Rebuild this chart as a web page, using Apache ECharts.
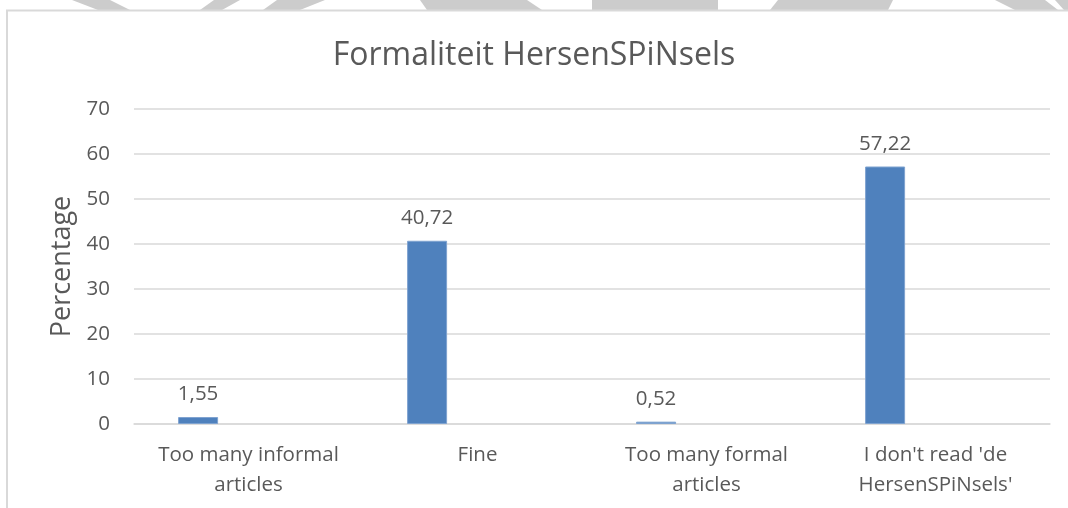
<!DOCTYPE html>
<html>
<head>
<meta charset="utf-8">
<script src="https://cdn.jsdelivr.net/npm/echarts@6/dist/echarts.min.js"></script>
<style>
  html, body { margin: 0; padding: 0; background: #fff; }
  #chart { width: 1068px; height: 508px; }
</style>
</head>
<body>
<div id="chart"></div>
<script>
// categorieën en waarden
const categories = ['Too many informal\narticles', 'Fine', 'Too many formal\narticles', "I don't read 'de\nHersenSPiNsels'"]
const percentages = [1.55, 40.72, 0.52, 57.22]
const emptySeries = [null, null, null, null]
const yTicks = [0, 10, 20, 30, 40, 50, 60, 70]

const fontFamily = '"Open Sans", Lato, sans-serif'
const textColor = '#595959'

// grijze vormen van het watermerk bovenaan
const watermark = [
  [[72, 0], [110, 0], [130, 10], [98, 10]],
  [[214, 0], [240, 0], [222, 10], [200, 10]],
  [[277, 0], [325, 0], [300, 10], [263, 10]],
  [[420, 0], [527, 0], [542, 10], [427, 10]],
  [[592, 0], [718, 0], [718, 10], [592, 10]],
  [[778, 0], [893, 0], [888, 10], [770, 10]],
  [[995, 0], [1045, 0], [1058, 10], [1015, 10]],
  [[1055, 0], [1068, 0], [1068, 10], [1064, 10]]
]

const chart = echarts.init(document.getElementById('chart'))

const option = {
  animation: false,
  backgroundColor: '#fff',
  graphic: [
    ...watermark.map(pts => ({
      type: 'polygon',
      shape: { points: pts },
      style: { fill: '#CCCCCC' },
      silent: true
    })),
    {
      type: 'rect',
      shape: { x: 7, y: 10.5, width: 1100, height: 600 },
      style: { fill: 'none', stroke: '#D9D9D9', lineWidth: 2 },
      silent: true
    }
  ],
  title: {
    text: 'Formaliteit HersenSPiNsels',
    left: 'center',
    top: 35,
    textStyle: {
      fontFamily: fontFamily,
      fontWeight: 'normal',
      fontSize: 32,
      color: textColor
    }
  },
  grid: {
    left: 134,
    right: 18,
    top: 109,
    bottom: 84,
    containLabel: false
  },
  xAxis: {
    type: 'category',
    data: categories,
    axisLine: { lineStyle: { color: '#D9D9D9', width: 1.5 } },
    axisTick: { show: false },
    axisLabel: {
      interval: 0,
      margin: 16,
      lineHeight: 30,
      fontFamily: fontFamily,
      fontSize: 20.5,
      color: textColor
    }
  },
  yAxis: {
    type: 'value',
    min: yTicks[0],
    max: yTicks[yTicks.length - 1],
    interval: 10,
    name: 'Percentage',
    nameLocation: 'middle',
    nameGap: 57,
    nameTextStyle: {
      fontFamily: fontFamily,
      fontSize: 27,
      color: textColor
    },
    axisLine: { show: false },
    axisTick: { show: false },
    axisLabel: {
      margin: 24,
      fontFamily: fontFamily,
      fontSize: 20.5,
      color: textColor
    },
    splitLine: { lineStyle: { color: '#D9D9D9', width: 1.5 } }
  },
  series: [
    {
      type: 'bar',
      data: percentages,
      barWidth: 40,
      barGap: '152%',
      itemStyle: {
        color: '#4F81BD',
        borderColor: '#7FA3D0',
        borderWidth: 1
      },
      label: {
        show: true,
        position: 'top',
        distance: 12,
        fontFamily: fontFamily,
        fontSize: 20.5,
        color: textColor,
        formatter: p => p.value.toFixed(2).replace('.', ',')
      }
    },
    {
      type: 'bar',
      data: emptySeries,
      barWidth: 40
    }
  ]
}

chart.setOption(option)
</script>
</body>
</html>
